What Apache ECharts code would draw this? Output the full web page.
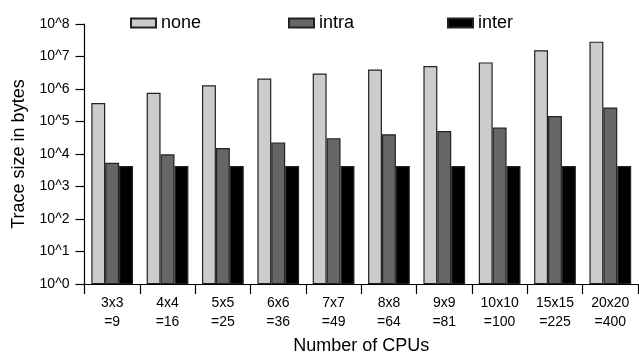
<!DOCTYPE html>
<html>
<head>
<meta charset="utf-8">
<script src="https://cdn.jsdelivr.net/npm/echarts@6/dist/echarts.min.js"></script>
<style>
  html, body { margin: 0; padding: 0; background: #fff; }
  #chart { width: 639px; height: 360px; }
</style>
</head>
<body>
<div id="chart"></div>
<script>
// grid sizes, label lines are "NxN\n=total"
var categories = ['3x3\n=9', '4x4\n=16', '5x5\n=25', '6x6\n=36', '7x7\n=49',
  '8x8\n=64', '9x9\n=81', '10x10\n=100', '15x15\n=225', '20x20\n=400'];

// trace size in bytes
var noneData = [370000, 770000, 1300000, 2100000, 3000000, 4000000, 5100000, 6600000, 15600000, 28600000];
var intraData = [5400, 9800, 15400, 22800, 30800, 40700, 51000, 65000, 147000, 270000];
var interData = [4300, 4300, 4300, 4300, 4300, 4300, 4300, 4300, 4300, 4300];

var FONT = '"Liberation Sans", Arial, Helvetica, sans-serif';

var chart = echarts.init(document.getElementById('chart'), null, { renderer: 'canvas' });

function legendAt(name, left) {
  return {
    data: [name],
    left: left,
    top: 9,
    icon: 'rect',
    itemWidth: 25,
    itemHeight: 9,
    itemGap: 0,
    selectedMode: false,
    textStyle: { fontFamily: FONT, fontSize: 18, color: '#000' }
  };
}

function barSeries(name, data, color) {
  return {
    name: name,
    type: 'bar',
    data: data,
    barGap: '0%',
    barCategoryGap: '24.6%',
    itemStyle: { color: color, borderColor: '#222', borderWidth: 1.2 }
  };
}

var option = {
  animation: false,
  backgroundColor: '#fff',
  legend: [
    legendAt('none', 125),
    legendAt('intra', 283),
    legendAt('inter', 442)
  ],
  grid: { left: 84.5, right: 1, top: 24, bottom: 73, containLabel: false },
  xAxis: {
    type: 'category',
    data: categories,
    name: 'Number of CPUs',
    nameLocation: 'middle',
    nameGap: 52,
    nameTextStyle: { fontFamily: FONT, fontSize: 18, color: '#000' },
    axisLine: { lineStyle: { color: '#000', width: 1.2 } },
    axisTick: { show: true, length: 10, inside: false, lineStyle: { color: '#000', width: 1.2 } },
    axisLabel: { fontFamily: FONT, fontSize: 14, color: '#000', lineHeight: 19, margin: 10, interval: 0 }
  },
  yAxis: {
    type: 'log',
    logBase: 10,
    min: 1,
    max: 100000000,
    splitNumber: 8,
    name: 'Trace size in bytes',
    nameLocation: 'middle',
    nameGap: 56,
    nameTextStyle: { fontFamily: FONT, fontSize: 18, color: '#000' },
    splitLine: { show: false },
    axisLine: { show: true, lineStyle: { color: '#000', width: 1.2 } },
    axisTick: { show: true, length: 9, lineStyle: { color: '#000', width: 1.2 } },
    axisLabel: {
      fontFamily: FONT, fontSize: 14, color: '#000', margin: 15,
      formatter: function (v) { return '10^' + Math.round(Math.log10(v)); }
    }
  },
  series: [
    barSeries('none', noneData, '#cccccc'),
    barSeries('intra', intraData, '#666666'),
    barSeries('inter', interData, '#000000')
  ]
};

chart.setOption(option);
</script>
</body>
</html>
